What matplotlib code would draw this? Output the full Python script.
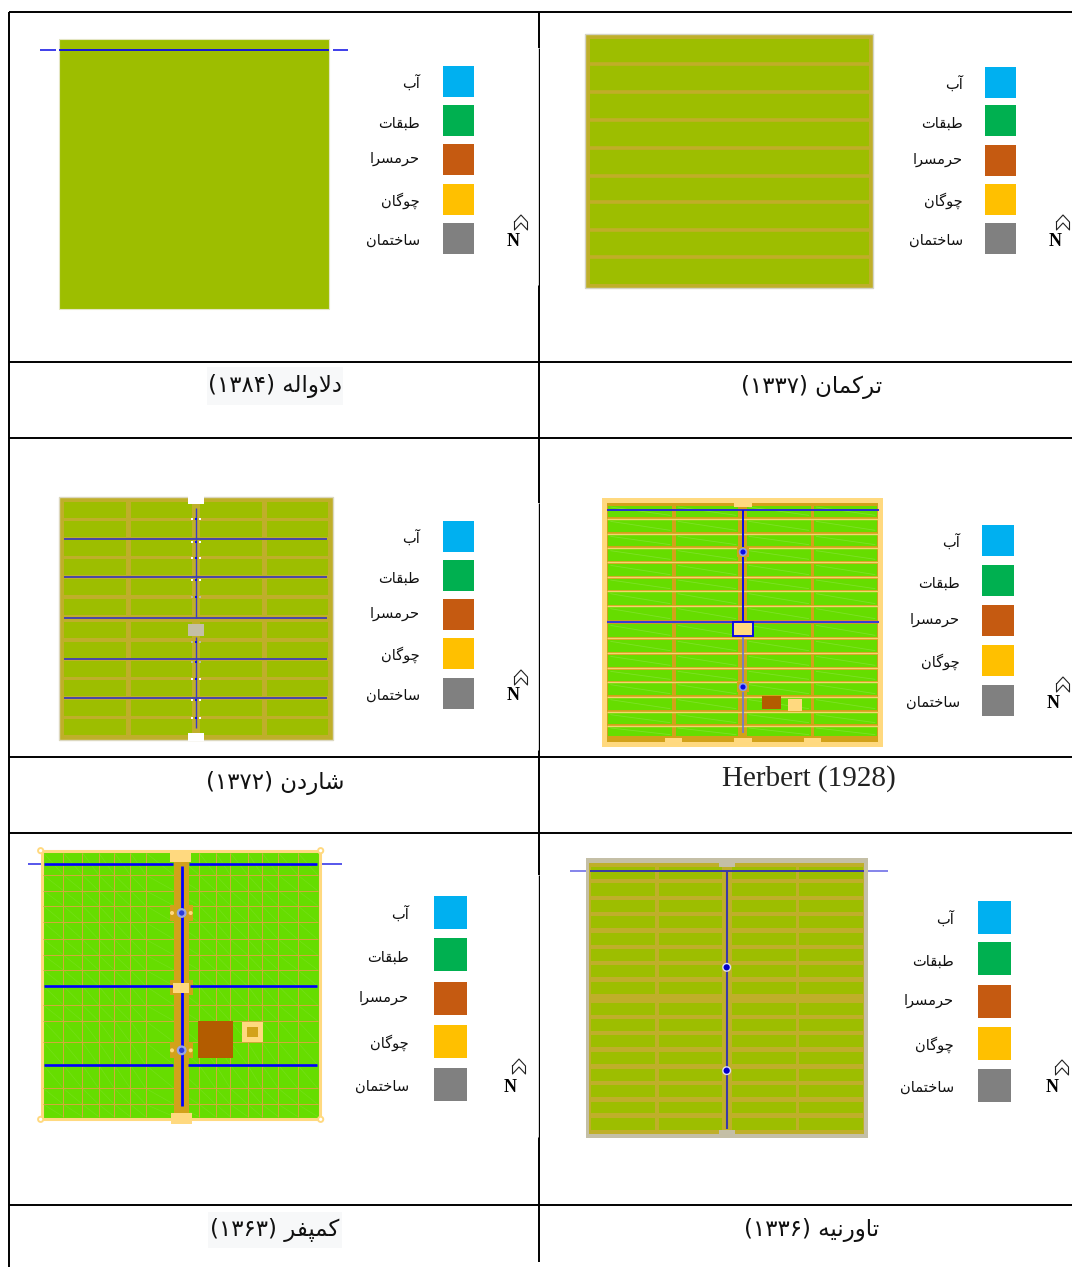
import matplotlib
matplotlib.use("Agg")
import matplotlib.pyplot as plt
from matplotlib.patches import Rectangle, Circle

# ---------- content ----------
plan_names = ["دلاواله", "ترکمان", "شاردن", None, "کمپفر", "تاورنیه"]
plan_years = ["۱۳۸۴", "۱۳۳۷", "۱۳۷۲", None, "۱۳۶۳", "۱۳۳۶"]
latin_title = "Herbert (1928)"
legend_labels = ["آب", "طبقات", "حرمسرا", "چوگان", "ساختمان"]
legend_colors = ["#00B0F0", "#00B050", "#C55A11", "#FFC000", "#808080"]

OLIVE = "#9DBE00"; TAN = "#BFAF2A"; GREEN = "#66DD00"; CREAM = "#FFD97F"
OCHRE = "#D2A21A"; BLUE = "#0A0AE6"; STONE = "#C4BFA6"; BROWN = "#B35C00"

# ---------- Persian shaping (isolated, final, initial, medial) ----------
FORMS = {
 'آ': ('\uFE81', '\uFE82', None, None), 'ا': ('\uFE8D', '\uFE8E', None, None),
 'ب': ('\uFE8F', '\uFE90', '\uFE91', '\uFE92'), 'پ': ('\uFB56', '\uFB57', '\uFB58', '\uFB59'),
 'ت': ('\uFE95', '\uFE96', '\uFE97', '\uFE98'), 'چ': ('\uFB7A', '\uFB7B', '\uFB7C', '\uFB7D'),
 'ح': ('\uFEA1', '\uFEA2', '\uFEA3', '\uFEA4'), 'خ': ('\uFEA5', '\uFEA6', '\uFEA7', '\uFEA8'),
 'د': ('\uFEA9', '\uFEAA', None, None), 'ر': ('\uFEAD', '\uFEAE', None, None),
 'س': ('\uFEB1', '\uFEB2', '\uFEB3', '\uFEB4'), 'ش': ('\uFEB5', '\uFEB6', '\uFEB7', '\uFEB8'),
 'ط': ('\uFEC1', '\uFEC2', '\uFEC3', '\uFEC4'), 'ف': ('\uFED1', '\uFED2', '\uFED3', '\uFED4'),
 'ق': ('\uFED5', '\uFED6', '\uFED7', '\uFED8'), 'ک': ('\uFB8E', '\uFB8F', '\uFB90', '\uFB91'),
 'گ': ('\uFB92', '\uFB93', '\uFB94', '\uFB95'), 'ل': ('\uFEDD', '\uFEDE', '\uFEDF', '\uFEE0'),
 'م': ('\uFEE1', '\uFEE2', '\uFEE3', '\uFEE4'), 'ن': ('\uFEE5', '\uFEE6', '\uFEE7', '\uFEE8'),
 'ه': ('\uFEE9', '\uFEEA', '\uFEEB', '\uFEEC'), 'و': ('\uFEED', '\uFEEE', None, None),
 'ی': ('\uFBFC', '\uFBFD', '\uFBFE', '\uFBFF'),
}
def shape(word):
    word = word.replace('لا', '\uFEFB')
    out = []
    for i, c in enumerate(word):
        if c == '\uFEFB':
            prev = word[i-1] if i else None
            joins = prev is not None and prev in FORMS and FORMS[prev][2] is not None
            out.append('\uFEFC' if joins else '\uFEFB')
            continue
        prev = word[i-1] if i else None
        nxt = word[i+1] if i + 1 < len(word) else None
        jp = prev in FORMS and FORMS[prev][2] is not None if prev else False
        jn = (nxt in FORMS or nxt == '\uFEFB') and FORMS[c][2] is not None if nxt else False
        iso, fin, ini, med = FORMS[c]
        out.append(med if jp and jn else fin if jp else ini if jn else iso)
    return ''.join(reversed(out))

# ---------- figure ----------
fig = plt.figure(figsize=(10.72, 12.67), dpi=100)
ax = fig.add_axes([0, 0, 1, 1])
ax.set_xlim(0, 1072); ax.set_ylim(1267, 0); ax.axis("off")

def rect(x0, x1, y0, y1, c, ec="none", lw=0, z=2):
    ax.add_patch(Rectangle((x0, y0), x1 - x0, y1 - y0, fc=c, ec=ec, lw=lw, zorder=z))
def line(x0, x1, y0, y1, c=BLUE, lw=1.0, z=4, alpha=1.0):
    ax.plot([x0, x1], [y0, y1], color=c, lw=lw, zorder=z, alpha=alpha, solid_capstyle="butt")
def node(x, y, r, c=BLUE, ring="#8F9BE8", rw=1.2):
    ax.add_patch(Circle((x, y), r, fc=c, ec=ring, lw=rw, zorder=6))

# ---------- table rules ----------
for y in (12, 362, 438, 757, 833, 1205):
    line(9, 1072, y, y, "black", 1.4, 9)
line(9, 9, 12, 1267, "black", 1.4, 9)
for y0, y1 in [(12, 48), (285, 503), (750, 875), (1137, 1262)]:
    line(539, 539, y0, y1, "black", 1.4, 9)
for y0, y1 in [(48, 285), (503, 750), (875, 1137)]:
    line(539.2, 539.2, y0, y1, "black", 0.72, 9)
    line(538.2, 538.2, y0, y1, "#D5D5D5", 0.72, 9)

# ---------- legends ----------
leg = [
 (443, 474, [66, 105, 144, 184, 223], 31, 420, (513, 241), (521, 223)),
 (985, 1016, [67, 105, 145, 184, 223], 31, 963, (1055, 241), (1063, 223)),
 (443, 474, [521, 560, 599, 638, 678], 31, 420, (513, 696), (521, 678)),
 (982, 1014, [525, 565, 605, 645, 685], 31, 960, (1053, 704), (1063, 685)),
 (434, 467, [896, 938, 982, 1025, 1068], 33, 409, (510, 1088), (519, 1067)),
 (978, 1011, [901, 942, 985, 1027, 1069], 33, 954, (1052, 1088), (1062, 1068)),
]
label_nudge = [0, 2, -2, 0, 0.5]
for x0, x1, ys, h, tx, n, ch in leg:
    for y, lab, col, dy in zip(ys, legend_labels, legend_colors, label_nudge):
        rect(x0, x1, y, y + h, col)
        ax.text(tx, y + h / 2 + 1 + dy, shape(lab), ha="right", va="center",
                fontsize=10.5, family="DejaVu Sans", color="#111111", zorder=8)
    ax.text(n[0], n[1], "N", ha="center", va="center", fontsize=13, weight="bold",
            family="Liberation Serif", color="black", zorder=8)
    ax.plot([ch[0] - 6.5, ch[0], ch[0] + 6.5, ch[0] + 6.5, ch[0], ch[0] - 6.5, ch[0] - 6.5],
            [ch[1] - 1, ch[1] - 8, ch[1] - 1, ch[1] + 7, ch[1], ch[1] + 7, ch[1] - 1],
            color="#222222", lw=0.8, zorder=8)

# ---------- titles ----------
title_pos = [(275, 386), (812, 387), (275, 783), None, (275, 1230), (812, 1230)]
for name, yr, pos in zip(plan_names, plan_years, title_pos):
    if name is None:
        continue
    s = "(" + yr + ") " + shape(name)
    ax.text(pos[0], pos[1], s, ha="center", va="center", fontsize=16.5,
            family="DejaVu Sans", color="#111111", zorder=8)
rect(207, 343, 367, 405, "#F7F8F9", z=1)
rect(208, 342, 1212, 1248, "#F7F8F9", z=1)
ax.text(809, 779, latin_title, ha="center", va="center", fontsize=21,
        family="Liberation Serif", color="#222222", zorder=8)

# ---------- plan 1: Dalavaleh ----------
rect(59, 329, 39, 309, OLIVE, ec="#E4E6C4", lw=0.8)
line(59, 329, 50, 50, BLUE, 1.3)
line(40, 56, 50, 50, BLUE, 1.1); line(333, 348, 50, 50, BLUE, 1.1)

# ---------- plan 2: Turkmen ----------
rect(585, 873, 34, 288, TAN, ec="#D4D4C4", lw=1.0)
rect(590, 869, 39, 284, OLIVE, z=2.5)
for y in (64, 92, 120, 148, 176, 202, 230, 257):
    line(590, 869, y, y, "#C0AE28", 2.6, 3)

# ---------- plan 3: Chardin ----------
zx = lambda v: 50 + v / 3; zy = lambda v: 490 + v / 3
rect(59, 333, 497, 740, TAN, ec="#DCD8C0", lw=1.0)
cols = [(42, 228), (243, 427), (450, 636), (650, 834)]
rows = [(35, 83), (93, 140), (150, 198), (208, 255), (268, 316), (327, 375),
        (395, 443), (455, 503), (513, 560), (570, 617), (630, 677), (688, 735)]
for a, b in cols:
    for c, d in rows:
        rect(zx(a), zx(b), zy(c), zy(d), OLIVE, z=3)
rect(188, 204, 496, 504, "white", z=3); rect(188, 204, 733, 741, "white", z=3)
rect(188, 204, 624, 636, STONE, z=5)
for y in (146, 262, 384, 507, 623):
    line(zx(42), zx(832), zy(y), zy(y), "#2A2AC8", 1.1)
line(196, 196, zy(55), zy(384), "#3A3AC8", 1.0); line(196, 196, zy(440), zy(715), "#3A3AC8", 1.0)
for y, c in [(87, "white"), (155, "white"), (204, "white"), (270, "white"), (320, "#BBBBA0"),
             (457, "#BBBBA0"), (515, "#BBBBA0"), (566, "white"), (631, "white"), (683, "white")]:
    for x in (426, 451):
        ax.plot(zx(x), zy(y), "s", ms=1.6, color=c, mew=0, zorder=6)
    ax.plot(196, zy(y), "s", ms=1.9, color=BLUE, mew=0, zorder=6)

# ---------- plan 4: Herbert ----------
zx = lambda v: 590 + v / 3; zy = lambda v: 490 + v / 3
rect(602, 883, 498, 747, CREAM)
rect(607, 878, 503, 742, OCHRE, z=2.5)
cols = [(55, 247), (257, 445), (470, 663), (672, 862)]
rows = [(47, 80), (90, 125), (135, 168), (178, 212), (222, 258), (266, 300), (307, 345), (352, 390),
        (402, 440), (450, 486), (495, 530), (540, 572), (580, 615), (625, 660), (670, 702), (710, 738)]
for a, b in cols:
    for c, d in rows:
        rect(zx(a), zx(b), zy(c), zy(d), GREEN, z=3)
        line(zx(a + 6), zx(b - 6), zy(c + 4), zy(d - 4), "#C8F0A0", 0.6, 3.5, alpha=0.25)
for y in (85, 130, 173, 214, 260, 302, 347, 442, 488, 533, 576, 620, 665, 706):
    line(zx(52), zx(865), zy(y + 1), zy(y + 1), "#F3D66E", 1.0, 3.5)
for x0, x1, y0, y1 in [(433, 485, 24, 50), (225, 277, 743, 770), (433, 485, 743, 770), (641, 693, 743, 770)]:
    rect(zx(x0), zx(x1), zy(y0), zy(y1), CREAM, z=3.5)
line(607, 879, 510, 510, "#2222E0", 1.3); line(607, 879, 622, 622, "#3A3AD8", 1.5)
line(743, 743, 510, 622, BLUE, 1.4); line(743, 743, 636, 733, "#6A78D8", 1.2)
rect(733, 753, 622, 636, CREAM, ec=BLUE, lw=1.4, z=6)
for y in (552, 687):
    rect(737, 749, y - 5, y + 5, OCHRE, z=4)
    node(743, y, 3.4)
rect(762, 781, 696, 709, BROWN, z=5)
rect(788, 802, 699, 711, CREAM, z=5)

# ---------- plan 5: Kaempfer ----------
zx = lambda v: 20 + v / 3; zy = lambda v: 840 + v / 3
rect(42, 320, 851, 1119, GREEN, ec=CREAM, lw=2.2)
vgrid = (70, 130, 187, 236, 283, 331, 377, 462, 537, 587, 631, 683, 726, 775, 833, 893)
hgrid = (38, 105, 152, 197, 247, 298, 345, 390, 438, 495, 543, 607, 675, 745, 793, 830)
for x in vgrid[1:-1]:
    if x != 462:
        line(zx(x), zx(x), zy(38), zy(830), "#D4A93C", 0.7, 3)
for y in hgrid[1:-1]:
    if y not in (438, 675):
        line(zx(70), zx(893), zy(y), zy(y), "#D4A93C", 0.7, 3)
for i in range(len(vgrid) - 1):
    for j in range(len(hgrid) - 1):
        line(zx(vgrid[i]), zx(vgrid[i + 1]), zy(hgrid[j]), zy(hgrid[j + 1]), "#C8F0A0", 0.5, 2.8, alpha=0.15)
rect(zx(462), zx(507), zy(65), zy(825), OCHRE, z=3.5)
for y in (219, 631):
    rect(zx(450), zx(518), zy(y - 24), zy(y + 24), OCHRE, z=3.6)
    for x in (456, 512):
        ax.add_patch(Circle((zx(x), zy(y)), 2, fc=CREAM, ec="none", zorder=5))
    node(zx(485), zy(y), 3.8, "#2A3AD8", "#9AA6E0", 1.6)
rect(zx(450), zx(520), zy(420), zy(465), OCHRE, z=3.6)
rect(zx(450), zx(513), zy(32), zy(65), CREAM, z=5)
rect(zx(460), zx(508), zy(430), zy(460), CREAM, z=5)
rect(zx(453), zx(516), zy(820), zy(852), CREAM, z=5)
line(zx(485), zx(485), zy(78), zy(798), "#0000FF", 2.0, 4.5)
for y, gap in [(73, (460, 508)), (438, (460, 510)), (675, (460, 503))]:
    line(zx(72), zx(gap[0]), zy(y), zy(y), "#0000FF", 1.9)
    line(zx(gap[1]), zx(892), zy(y), zy(y), "#0000FF", 1.9)
line(zx(24), zx(62), zy(73), zy(73), "#3A3AE8", 1.2); line(zx(905), zx(965), zy(73), zy(73), "#3A3AE8", 1.2)
rect(zx(534), zx(639), zy(543), zy(655), BROWN, z=5)
rect(zx(667), zx(730), zy(546), zy(607), CREAM, z=5)
rect(zx(682), zx(715), zy(561), zy(592), OCHRE, z=6)
for x, y in [(62, 32), (902, 32), (62, 838), (902, 838)]:
    ax.add_patch(Circle((zx(x), zy(y)), 2.6, fc="white", ec=CREAM, lw=1.4, zorder=6))

# ---------- plan 6: Tavernier ----------
zx = lambda v: 565 + v / 3; zy = lambda v: 850 + v / 3
rect(586, 868, 858, 1138, STONE)
rect(zx(73), zx(898), zy(38), zy(852), TAN, z=2.5)
cols = [(78, 270), (282, 472), (500, 692), (703, 893)]
rows = [(52, 87), (100, 137), (150, 186), (198, 235), (248, 284), (297, 333), (346, 382), (396, 432),
        (458, 494), (507, 544), (556, 592), (606, 642), (656, 692), (706, 742), (755, 790), (804, 840)]
for a, b in cols:
    for c, d in rows:
        rect(zx(a), zx(b), zy(c), zy(d), OLIVE, z=3)
rect(zx(462), zx(510), zy(35), zy(50), STONE, z=3.5)
rect(zx(462), zx(510), zy(840), zy(855), STONE, z=3.5)
line(zx(75), zx(898), zy(62), zy(62), "#3A3AA8", 1.4)
line(zx(15), zx(62), zy(62), zy(62), "#7070E8", 1.2); line(zx(910), zx(968), zy(62), zy(62), "#7070E8", 1.2)
line(zx(485), zx(485), zy(62), zy(838), "#3A3AA8", 1.5)
for y in (352, 662):
    node(zx(485), zy(y), 3.8, "#0000C8", "#DDE0F0", 1.0)

fig.savefig("out.png", dpi=100)
